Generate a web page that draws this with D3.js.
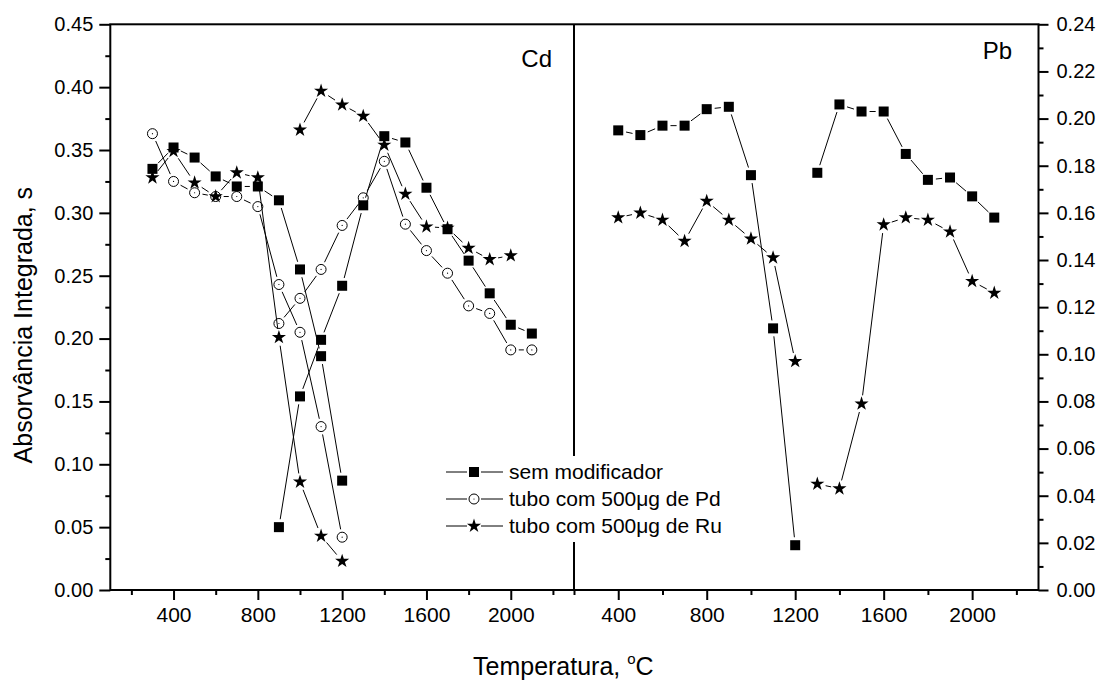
<!DOCTYPE html>
<html>
<head>
<meta charset="utf-8">
<script src="https://cdn.jsdelivr.net/npm/d3@7"></script>
<style>
  body { margin: 0; background: #fff; }
  text { font-family: "Liberation Sans", Arial, sans-serif; fill: #000; }
</style>
</head>
<body>
<div id="chart"></div>
<script>
// ---- data ----
// Cd panel: pyrolysis runs (300-1200) and atomization runs (900-2100)
const cdPyroT = [300, 400, 500, 600, 700, 800, 900, 1000, 1100, 1200]
const cdSemPyro = [0.335, 0.352, 0.344, 0.329, 0.321, 0.321, 0.310, 0.255, 0.186, 0.087]
const cdPdPyro = [0.363, 0.325, 0.316, 0.313, 0.313, 0.305, 0.243, 0.205, 0.130, 0.042]
const cdRuPyro = [0.328, 0.349, 0.324, 0.313, 0.332, 0.328, 0.201, 0.086, 0.043, 0.023]
const cdAtomT = [900, 1000, 1100, 1200, 1300, 1400, 1500, 1600, 1700, 1800, 1900, 2000, 2100]
const cdSemAtom = [0.050, 0.154, 0.199, 0.242, 0.306, 0.361, 0.356, 0.320, 0.287, 0.262, 0.236, 0.211, 0.204]
const cdPdAtom = [0.212, 0.232, 0.255, 0.290, 0.312, 0.341, 0.291, 0.270, 0.252, 0.226, 0.220, 0.191, 0.191]
const cdRuAtomT = [1000, 1100, 1200, 1300, 1400, 1500, 1600, 1700, 1800, 1900, 2000]
const cdRuAtom = [0.366, 0.397, 0.386, 0.377, 0.354, 0.315, 0.289, 0.288, 0.272, 0.263, 0.266]

// Pb panel
const pbPyroT = [400, 500, 600, 700, 800, 900, 1000, 1100, 1200]
const pbSemPyro = [0.195, 0.193, 0.197, 0.197, 0.204, 0.205, 0.176, 0.111, 0.019]
const pbRuPyro = [0.158, 0.160, 0.157, 0.148, 0.165, 0.157, 0.149, 0.141, 0.097]
const pbAtomT = [1300, 1400, 1500, 1600, 1700, 1800, 1900, 2000, 2100]
const pbSemAtom = [0.177, 0.206, 0.203, 0.203, 0.185, 0.174, 0.175, 0.167, 0.158]
const pbRuAtom = [0.045, 0.043, 0.079, 0.155, 0.158, 0.157, 0.152, 0.131, 0.126]

// ticks
const xMajor = [400, 800, 1200, 1600, 2000]
const xMinor = [200, 600, 1000, 1400, 1800, 2200]
const yCdMajor = [0, 0.05, 0.10, 0.15, 0.20, 0.25, 0.30, 0.35, 0.40, 0.45]
const yCdMinor = [0.025, 0.075, 0.125, 0.175, 0.225, 0.275, 0.325, 0.375, 0.425]
const yPbMajor = [0, 0.02, 0.04, 0.06, 0.08, 0.10, 0.12, 0.14, 0.16, 0.18, 0.20, 0.22, 0.24]
const yPbMinor = [0.01, 0.03, 0.05, 0.07, 0.09, 0.11, 0.13, 0.15, 0.17, 0.19, 0.21, 0.23]

const legendNames = ["sem modificador", "tubo com 500\u03bcg de Pd", "tubo com 500\u03bcg de Ru"]
const legendKinds = ["square", "circle", "star"]

// ---- sizes ----
let width = 1102
let height = 680
let plotTop = 24.3, plotBottom = 590
let plotLeft = 110.3, plotMid = 574, plotRight = 1038.5

let svg = d3.select("#chart")
  .append("svg")
  .attr("width", width)
  .attr("height", height)

let xCd = d3.scaleLinear().domain([100, 2300]).range([plotLeft, plotMid])
let xPb = d3.scaleLinear().domain([200, 2300]).range([plotMid, plotRight])
let yCd = d3.scaleLinear().domain([0, 0.45]).range([plotBottom, plotTop])
let yPb = d3.scaleLinear().domain([0, 0.24]).range([plotBottom, plotTop])

// axes
function styleAxis(g, fontSize) {
  g.select(".domain").remove()
  g.selectAll(".tick line").attr("stroke", "#000").attr("stroke-width", 2)
  g.selectAll(".tick text").style("font-size", fontSize + "px")
    .style("font-family", "'Liberation Sans', Arial, sans-serif")
}

// left y (Cd)
svg.append("g").attr("transform", `translate(${plotLeft},0)`)
  .call(d3.axisLeft(yCd).tickValues(yCdMajor).tickSize(11).tickPadding(6).tickFormat(d3.format(".2f")))
  .call(g => styleAxis(g, 20))
svg.append("g").attr("transform", `translate(${plotLeft},0)`)
  .call(d3.axisLeft(yCd).tickValues(yCdMinor).tickSize(5).tickFormat(""))
  .call(g => styleAxis(g, 20))

// right y (Pb)
svg.append("g").attr("transform", `translate(${plotRight},0)`)
  .call(d3.axisRight(yPb).tickValues(yPbMajor).tickSize(10).tickPadding(8).tickFormat(d3.format(".2f")))
  .call(g => styleAxis(g, 20))
svg.append("g").attr("transform", `translate(${plotRight},0)`)
  .call(d3.axisRight(yPb).tickValues(yPbMinor).tickSize(5).tickFormat(""))
  .call(g => styleAxis(g, 20))

// bottom x axes
;[xCd, xPb].forEach(x => {
  svg.append("g").attr("transform", `translate(0,${plotBottom})`)
    .call(d3.axisBottom(x).tickValues(xMajor).tickSize(10).tickPadding(7).tickFormat(d3.format("d")))
    .call(g => styleAxis(g, 21))
  svg.append("g").attr("transform", `translate(0,${plotBottom})`)
    .call(d3.axisBottom(x).tickValues(xMinor).tickSize(5).tickFormat(""))
    .call(g => styleAxis(g, 21))
})

// frame
let frame = svg.append("g").attr("stroke", "#000").attr("stroke-width", 2).attr("fill", "none")
frame.append("rect").attr("x", plotLeft).attr("y", plotTop)
  .attr("width", plotRight - plotLeft).attr("height", plotBottom - plotTop)
frame.append("line").attr("x1", plotMid).attr("x2", plotMid).attr("y1", plotTop).attr("y2", plotBottom)

// symbols
function drawSymbol(g, kind, cx, cy) {
  if (kind === "square") {
    g.append("rect").attr("x", cx - 5).attr("y", cy - 5).attr("width", 10).attr("height", 10)
      .attr("fill", "#000")
  } else if (kind === "circle") {
    g.append("circle").attr("cx", cx).attr("cy", cy).attr("r", 5)
      .attr("fill", "#fff").attr("stroke", "#000").attr("stroke-width", 1)
    g.append("circle").attr("cx", cx).attr("cy", cy).attr("r", 0.6).attr("fill", "#000")
  } else {
    g.append("path").attr("d", d3.symbol().type(d3.symbolStar).size(62)())
      .attr("transform", `translate(${cx},${cy})`).attr("fill", "#000")
  }
}

const gaps = { square: 8, circle: 8, star: 8.5 }

// line with a gap round every symbol, as Origin draws it
function drawSeries(xs, ys, x, y, kind) {
  let g = svg.append("g")
  let pts = xs.map((t, i) => [x(t), y(ys[i])])
  let gap = gaps[kind]
  for (let i = 0; i < pts.length - 1; i++) {
    let [x1, y1] = pts[i], [x2, y2] = pts[i + 1]
    let L = Math.hypot(x2 - x1, y2 - y1)
    if (L <= 2 * gap) continue
    let ux = (x2 - x1) / L, uy = (y2 - y1) / L
    g.append("line")
      .attr("x1", x1 + ux * gap).attr("y1", y1 + uy * gap)
      .attr("x2", x2 - ux * gap).attr("y2", y2 - uy * gap)
      .attr("stroke", "#000").attr("stroke-width", 1)
  }
  pts.forEach(p => drawSymbol(g, kind, p[0], p[1]))
}

drawSeries(cdPyroT, cdPdPyro, xCd, yCd, "circle")
drawSeries(cdAtomT, cdPdAtom, xCd, yCd, "circle")
drawSeries(cdPyroT, cdSemPyro, xCd, yCd, "square")
drawSeries(cdAtomT, cdSemAtom, xCd, yCd, "square")
drawSeries(cdPyroT, cdRuPyro, xCd, yCd, "star")
drawSeries(cdRuAtomT, cdRuAtom, xCd, yCd, "star")

drawSeries(pbPyroT, pbSemPyro, xPb, yPb, "square")
drawSeries(pbAtomT, pbSemAtom, xPb, yPb, "square")
drawSeries(pbPyroT, pbRuPyro, xPb, yPb, "star")
drawSeries(pbAtomT, pbRuAtom, xPb, yPb, "star")

// panel labels
svg.append("text").attr("x", 552).attr("y", 67).attr("text-anchor", "end")
  .style("font-size", "24px").text("Cd")
svg.append("text").attr("x", 1012).attr("y", 59).attr("text-anchor", "end")
  .style("font-size", "24px").text("Pb")

// legend (white box hides the divider behind it)
let legend = svg.append("g")
legend.append("rect").attr("x", 440).attr("y", 456).attr("width", 290).attr("height", 86).attr("fill", "#fff")
legendNames.forEach((name, i) => {
  let cy = 472 + i * 27
  legend.append("line").attr("x1", 446).attr("x2", 467).attr("y1", cy).attr("y2", cy)
    .attr("stroke", "#000").attr("stroke-width", 1)
  legend.append("line").attr("x1", 481).attr("x2", 503).attr("y1", cy).attr("y2", cy)
    .attr("stroke", "#000").attr("stroke-width", 1)
  drawSymbol(legend, legendKinds[i], 474, cy)
  legend.append("text").attr("x", 509).attr("y", cy + 7).style("font-size", "21px").text(name)
})

// axis titles
svg.append("text")
  .attr("transform", `translate(32,${(plotTop + plotBottom) / 2 + 18}) rotate(-90)`)
  .attr("text-anchor", "middle")
  .style("font-size", "25px")
  .text("Absorvância Integrada, s")

let xt = svg.append("text").attr("x", 473).attr("y", 675).style("font-size", "25px")
xt.append("tspan").text("Temperatura, ")
xt.append("tspan").attr("dy", -11).style("font-size", "15px").text("o")
xt.append("tspan").attr("dy", 11).text("C")
</script>
</body>
</html>
